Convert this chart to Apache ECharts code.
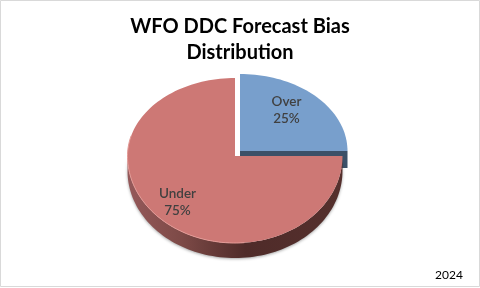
<!DOCTYPE html>
<html><head><meta charset="utf-8">
<style>html,body{margin:0;padding:0;background:#fff}#c{width:480px;height:288px}</style>
<script src="https://cdn.jsdelivr.net/npm/echarts@6/dist/echarts.min.js"></script>
</head><body><div id="c"></div>
<script>
const categories = ['Over', 'Under'];
const shares = [25, 75];
const titleLines = ['WFO DDC Forecast Bias', 'Distribution'];
const yearLabel = '2024';

const chart = echarts.init(document.getElementById('c'), null, {renderer: 'canvas'});
const total = shares.reduce((a, b) => a + b, 0);
const geo = {
  Over:  {cx: 240, cy: 151, rx: 107.5, up: 77, down: 87, depth: 17, top: '#789fcc', label: [286.5, 110]},
  Under: {cx: 235, cy: 156, rx: 107.5, up: 78, down: 87, depth: 15, top: '#cd7875', label: [177.5, 202]}
};
const DEG = Math.PI / 180;
function pt(g, deg, dy) {
  const c = Math.cos(deg * DEG), s = Math.sin(deg * DEG);
  return [g.cx + g.rx * s, g.cy - (c > 0 ? g.up : g.down) * c + (dy || 0)];
}
function arc(g, a, b, dy) {
  const out = [], n = Math.max(2, Math.ceil(Math.abs(b - a) / 2));
  for (let i = 0; i <= n; i++) out.push(pt(g, a + (b - a) * i / n, dy));
  return out;
}
function renderItem(params, api) {
  const i = params.dataIndex, name = categories[i], g = geo[name];
  let start = 0;
  for (let k = 0; k < i; k++) start += shares[k] / total * 360;
  const end = start + api.value(0) / total * 360;
  const children = [];
  const visA = Math.max(start, 90), visB = Math.min(end, 270);
  if (name === 'Over') {
    const e = pt(g, end);
    children.push({type: 'polygon', z2: 1, shape: {points: [[g.cx, g.cy], e, [e[0], e[1] + g.depth], [g.cx, g.cy + g.depth]]},
      style: {fill: '#3b5068'}});
  } else if (visB > visA) {
    const pts = arc(g, visA, visB, 0).concat(arc(g, visB, visA, g.depth));
    children.push({type: 'polygon', z2: 1, shape: {points: pts},
      style: {shadowBlur: 3, shadowColor: 'rgba(0,0,0,0.35)', shadowOffsetY: 1,
        fill: new echarts.graphic.LinearGradient(0, 0, 1, 0, [
        {offset: 0, color: '#95595a'}, {offset: 0.25, color: '#7d4a47'},
        {offset: 0.55, color: '#4f2b29'}, {offset: 1, color: '#55302d'}])}});
  }
  children.push({type: 'polygon', z2: 2,
    shape: {points: [[g.cx, g.cy]].concat(arc(g, start, end, 0))}, style: {fill: g.top}});
  if (name === 'Under') {
    children.push({type: 'polyline', z2: 3, shape: {points: arc(g, 175, 285, 0)},
      style: {fill: 'none', stroke: '#e39a96', lineWidth: 1}});
  }
  const pct = Math.round(api.value(0) / total * 100) + '%';
  children.push({type: 'text', z2: 4, style: {x: g.label[0], y: g.label[1], text: name + '\n' + pct,
    fill: '#404040', font: '600 13.5px Lato', align: 'center', verticalAlign: 'middle', lineHeight: 17}});
  return {type: 'group', children};
}
chart.setOption({
  animation: false,
  backgroundColor: '#fff',
  title: {text: titleLines.join('\n'), left: 235, top: 9, textAlign: 'center',
    textStyle: {fontFamily: 'Lato', fontWeight: 'bold', fontSize: 20, lineHeight: 26, color: '#000'}},
  graphic: [
    {type: 'rect', shape: {x: 0.5, y: 0.5, width: 479, height: 286}, style: {fill: 'none', stroke: '#d9d9d9', lineWidth: 1}},
    {type: 'text', style: {x: 449, y: 275, text: yearLabel, fill: '#000', font: '12px Lato', align: 'center', verticalAlign: 'middle'}}
  ],
  series: [{type: 'custom', coordinateSystem: 'none', renderItem,
    data: shares.map((v, i) => ({name: categories[i], value: [v]}))}]
});
</script></body></html>
